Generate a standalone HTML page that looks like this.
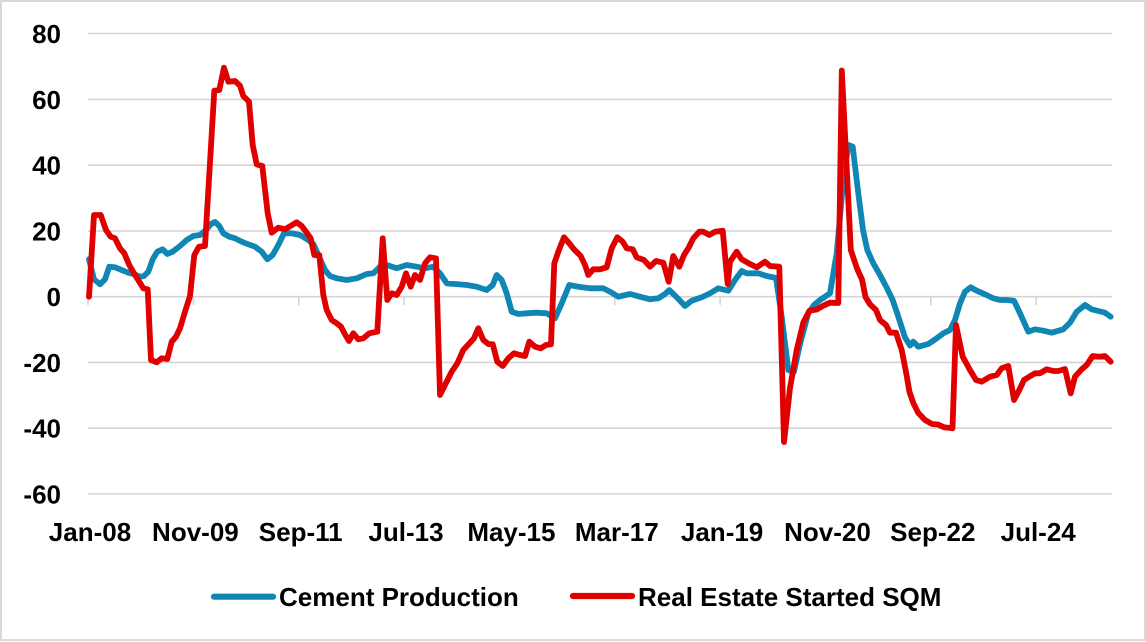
<!DOCTYPE html>
<html>
<head>
<meta charset="utf-8">
<style>
  html,body{margin:0;padding:0;background:#fff;}
  svg{display:block;}
  text{font-family:"Liberation Sans",Arial,sans-serif;font-weight:bold;fill:#000;}
</style>
</head>
<body>
<svg width="1146" height="642" viewBox="0 0 1146 642" xmlns="http://www.w3.org/2000/svg">
  <rect x="0" y="0" width="1146" height="642" fill="#fff"/>
  <rect x="1" y="1" width="1144" height="639" fill="none" stroke="#d9d9d9" stroke-width="2"/>

  <!-- gridlines -->
  <g stroke="#d4d4d4" stroke-width="1.6">
    <line x1="88" y1="33.5" x2="1112" y2="33.5"/>
    <line x1="88" y1="99.5" x2="1112" y2="99.5"/>
    <line x1="88" y1="165.2" x2="1112" y2="165.2"/>
    <line x1="88" y1="231" x2="1112" y2="231"/>
    <line x1="88" y1="296.7" x2="1112" y2="296.7"/>
    <line x1="88" y1="362.4" x2="1112" y2="362.4"/>
    <line x1="88" y1="428.2" x2="1112" y2="428.2"/>
    <line x1="88" y1="494" x2="1112" y2="494"/>
  </g>
  <!-- tick marks -->
  <g stroke="#d4d4d4" stroke-width="1.6">
    <line x1="88" y1="296.7" x2="88" y2="305"/>
    <line x1="193.4" y1="296.7" x2="193.4" y2="305"/>
    <line x1="298.7" y1="296.7" x2="298.7" y2="305"/>
    <line x1="404" y1="296.7" x2="404" y2="305"/>
    <line x1="509.4" y1="296.7" x2="509.4" y2="305"/>
    <line x1="614.8" y1="296.7" x2="614.8" y2="305"/>
    <line x1="720.1" y1="296.7" x2="720.1" y2="305"/>
    <line x1="825.5" y1="296.7" x2="825.5" y2="305"/>
    <line x1="930.8" y1="296.7" x2="930.8" y2="305"/>
    <line x1="1036.2" y1="296.7" x2="1036.2" y2="305"/>
  </g>

  <!-- y labels -->
  <g font-size="26" text-anchor="end">
    <text x="61" y="43">80</text>
    <text x="61" y="109">60</text>
    <text x="61" y="174.7">40</text>
    <text x="61" y="240.5">20</text>
    <text x="61" y="306.2">0</text>
    <text x="61" y="372">-20</text>
    <text x="61" y="437.7">-40</text>
    <text x="61" y="503.5">-60</text>
  </g>

  <!-- x labels -->
  <g font-size="26" text-anchor="middle">
    <text x="90" y="541">Jan-08</text>
    <text x="195.4" y="541">Nov-09</text>
    <text x="300.7" y="541">Sep-11</text>
    <text x="406" y="541">Jul-13</text>
    <text x="511.4" y="541">May-15</text>
    <text x="616.8" y="541">Mar-17</text>
    <text x="722.1" y="541">Jan-19</text>
    <text x="827.5" y="541">Nov-20</text>
    <text x="932.8" y="541">Sep-22</text>
    <text x="1038.2" y="541">Jul-24</text>
  </g>

  <!-- Cement Production (blue) -->
  <polyline fill="none" stroke="#0f86b4" stroke-width="5.8" stroke-linejoin="round" stroke-linecap="round"
    points="89,259.3 94,279.3 100,284.3 105,279.3 109.3,266.7 115,267.3 121.7,270 128.3,272.7 134.3,274.3 140,276.7 144,276 148.3,271.7 152.7,259.3 157.3,251.7 162.7,249.3 167.3,254 172.7,251.7 180,246 186.7,240 193.3,236 200,235 206,230 211,224 215,222 219.3,226 223.3,233.3 229.3,236.7 235,238.3 241.7,241.7 248.3,244.3 255,246.7 261.7,251.7 267.3,259.3 272.7,255 278.3,245 284,233.3 291.7,233.3 300,235 308.3,240 313.3,244 318.3,255 325,270 330,276 336.7,278.3 346.7,280 356.7,278.3 366.7,274 373.3,273.3 380,266.7 386.7,265 396.7,268.3 406.7,265 416.7,266.7 425,268.3 433.3,266.7 440,273.3 446.7,283.3 455,284 466.7,285 476.7,286.7 486.7,290 492.7,285 496.7,275 501.7,280 506.7,293.3 511.7,311.7 518.3,314 526.7,313.3 536.7,312.7 546.7,313.3 555,318.3 561.7,303.3 569.3,285 578.3,286.7 590,288.3 603.3,288.3 610,291.7 618.3,296.7 630,294 640,296.7 650,299.3 658.3,298.3 665,294 669.3,290 676.7,297.3 685,306 691.7,300.7 701.7,297.3 710,293.3 718.3,288.3 728.3,290.7 735,280 741.7,271 746.7,273.3 758.3,273.3 766.7,276 776,278 781.7,316.7 788.3,370 794,371.7 800,344 808.3,313.3 814,305 820,300 830,293.3 836.7,253.3 842.7,186.7 848.3,145 852.7,146.7 858.3,193.3 863,230 867.3,250 873.3,263.3 880,275 886.7,287.7 892.7,300 898.3,316.7 905,337.5 910,345.5 913.3,341.7 918.3,346.7 928.3,344 936.7,338.3 943.3,333.3 950,330 955,320 960,303.3 965,291.7 970.7,287.3 976.7,290.7 985,294.3 993.3,298.3 1000,300 1006.7,300 1014,300.7 1020,313.3 1028.3,331.7 1035,329.3 1043.3,330.7 1051.7,332.7 1063.3,329.3 1070,322.7 1076.7,311.7 1085,305 1091.7,309.3 1098.3,311 1105,312.7 1110.7,316.7"/>

  <!-- Real Estate Started SQM (red) -->
  <polyline fill="none" stroke="#e00000" stroke-width="5.8" stroke-linejoin="round" stroke-linecap="round"
    points="89,296.7 94,215 100.7,215 106,230 110.7,236.7 115,238.3 120,248.3 124.3,253.3 129.3,265 135,275 139.3,281.7 143.3,288.3 147.7,289.3 151,360 156.7,362.3 161.7,358.3 167.3,359 171.7,341.7 176,336.7 180,328.3 185,311.7 190,296 194.3,255 199,246.7 205,246 214.3,90.7 219.3,90 224,67.7 228.3,81.7 235,81 240,85.7 243.3,96 249,101.7 252.7,145 256.7,164.3 262.3,166 267.7,213.3 271.7,232.7 278.3,227.7 285,229.3 291,225.7 296.7,222.3 301.7,226 306.7,232.7 310.7,238.3 314.3,255 319.3,255 323.3,295 326.7,310 331.7,320 336.7,323.3 341,326.7 345,334.3 349,341 353.3,333.3 358.3,339.3 363.3,338.3 369.3,333.3 377.3,331.7 382.7,238.3 387.3,300 391.7,293.3 396.7,295 401.7,286.7 406,273.3 410.7,286.7 415,275 420,280 425,263.3 430,257.3 436,258.3 440,395 445,385 451.7,371.7 457.3,363.3 463.3,350 470,342.7 474,338.3 478.3,328.3 483.3,340 488.3,344 492.7,344.3 497.3,361.7 502.7,366 508.3,358.3 514,353.3 520,355 525,356 529.3,341.7 535,346.7 540.7,348.3 546,345 551,344.3 554.3,263.3 558.3,251.7 564,237.3 570,244.3 574,249.3 580.7,256 585,265 588.3,275 593.3,269.3 600,269.3 606.7,267.3 611.7,248.3 617.3,237.3 622.7,241.7 626.7,248.3 632.7,249.3 636.7,257.3 644,260 650,266.7 656,261 663.3,262.7 668.7,281.7 673.3,256 679.3,266.7 684,255 688.3,248.3 693.3,238.3 699.3,231.7 703.3,231.7 709.3,235 715,231.7 722.7,230.7 727.7,284 730,261.7 736.7,251.7 741.7,259.3 750,264 756.7,267.3 765,261.7 770,266 779.3,266.7 784,442 790,388 796.7,350 803.3,322.5 809.5,310.7 816.7,309.5 823.3,305.7 830,302.7 838.3,303 841.8,70.5 846.3,160 850.8,250 857,268.5 862,279.5 865.5,297 870,304.3 876,310 880,320 886,325 890,332.7 896,332.7 901.7,350 906,372 909.5,392 913.5,403.5 918.3,413 925,420 932,424 938,424.5 944,427.3 952.5,428.3 956,325 962.7,356.7 970,370 976,380 981.7,381.7 990,376.7 996.7,375 1001.7,368.3 1008.3,366 1014,400 1019.3,390 1024,380 1029.3,376.7 1035,373.3 1040,373.3 1046.7,369.3 1053.3,371 1058.3,371 1065,369 1070.7,393.3 1075,376.7 1081.7,369.3 1086.7,365 1092.7,356 1099.3,356.7 1105,356 1110.7,361.7"/>

  <!-- legend -->
  <line x1="214" y1="596.7" x2="273" y2="596.7" stroke="#0f86b4" stroke-width="6.2" stroke-linecap="round"/>
  <text x="279" y="606" font-size="26">Cement Production</text>
  <line x1="573" y1="596" x2="632" y2="596" stroke="#e00000" stroke-width="6.2" stroke-linecap="round"/>
  <text x="638" y="606" font-size="26">Real Estate Started SQM</text>
</svg>
</body>
</html>
